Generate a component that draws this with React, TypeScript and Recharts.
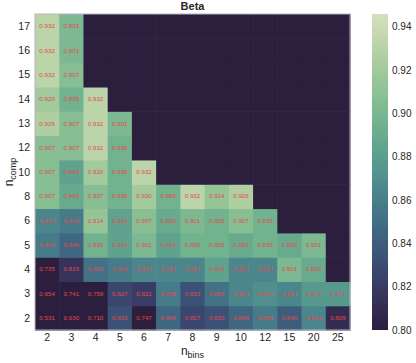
import React from 'react';
import { ScatterChart, Scatter, XAxis, YAxis } from 'recharts';

// columns (n_bins) and rows (n_comp, bottom to top)
const BINS = ['2', '3', '4', '5', '6', '7', '8', '9', '10', '12', '15', '20', '25'];
const COMPS = ['2', '3', '4', '5', '6', '8', '10', '12', '13', '14', '15', '16', '17'];

// scores per n_comp, starting at n_bins = 2
const ROW_2 = [0.531, 0.630, 0.710, 0.833, 0.747, 0.846, 0.827, 0.833, 0.846, 0.858, 0.840, 0.864, 0.809];
const ROW_3 = [0.654, 0.741, 0.759, 0.827, 0.821, 0.858, 0.833, 0.852, 0.864, 0.870, 0.864, 0.877, 0.877];
const ROW_4 = [0.735, 0.815, 0.852, 0.858, 0.864, 0.864, 0.864, 0.883, 0.864, 0.864, 0.901, 0.889];
const ROW_5 = [0.858, 0.846, 0.895, 0.883, 0.901, 0.883, 0.895, 0.895, 0.889, 0.895, 0.889, 0.901];
const ROW_6 = [0.864, 0.858, 0.914, 0.883, 0.907, 0.889, 0.901, 0.895, 0.907, 0.895];
const ROW_8 = [0.907, 0.889, 0.907, 0.895, 0.920, 0.895, 0.932, 0.914, 0.926];
const ROW_10 = [0.907, 0.883, 0.920, 0.895, 0.932];
const ROW_12 = [0.907, 0.907, 0.932, 0.895];
const ROW_13 = [0.926, 0.907, 0.932, 0.901];
const ROW_14 = [0.920, 0.895, 0.932];
const ROW_15 = [0.932, 0.907];
const ROW_16 = [0.932, 0.901];
const ROW_17 = [0.932, 0.901];

const ROWS = [ROW_2, ROW_3, ROW_4, ROW_5, ROW_6, ROW_8, ROW_10, ROW_12, ROW_13, ROW_14, ROW_15, ROW_16, ROW_17];

const CBAR_TICKS = [0.80, 0.82, 0.84, 0.86, 0.88, 0.90, 0.92, 0.94];
const VMIN = 0.8;
const VMAX = 0.946;

const FONT = '"Liberation Sans", Arial, sans-serif';

// seaborn cubehelix_palette(start=.5, rot=-.75, reverse=True)
function cubehelix(x: number) {
  const phi = 2 * Math.PI * (0.5 / 3 - 0.75 * x);
  const a = (0.8 * x * (1 - x)) / 2;
  const c = Math.cos(phi);
  const s = Math.sin(phi);
  const ch = (v: number) => Math.round(Math.max(0, Math.min(1, v)) * 255);
  const r = x + a * (-0.14861 * c + 1.78277 * s);
  const g = x + a * (-0.29227 * c - 0.90649 * s);
  const b = x + a * (1.97294 * c);
  return `rgb(${ch(r)},${ch(g)},${ch(b)})`;
}

function colorFor(v: number | null) {
  if (v == null) return cubehelix(0.15);
  const t = Math.max(0, Math.min(1, (v - VMIN) / (VMAX - VMIN)));
  return cubehelix(0.15 + 0.7 * t);
}

const W = 416;
const H = 363;
const PLOT = { left: 35, top: 14, right: 350, bottom: 330 };
const CW = (PLOT.right - PLOT.left) / BINS.length;
const CH = (PLOT.bottom - PLOT.top) / COMPS.length;

const cells: { x: number; y: number; v: number | null }[] = [];
ROWS.forEach((row, r) => {
  BINS.forEach((_, c) => {
    cells.push({ x: c, y: r, v: row[c] ?? null });
  });
});

const Cell = (props: any) => {
  const { cx, cy, payload } = props;
  return (
    <g>
      <rect x={cx - CW / 2} y={cy - CH / 2} width={CW + 0.6} height={CH + 0.6} fill={colorFor(payload.v)} />
      {payload.v != null && (
        <text x={cx} y={cy} dy="0.35em" textAnchor="middle" fontSize={6.2} fill="#e4484c" fontFamily={FONT}>
          {payload.v.toFixed(3)}
        </text>
      )}
    </g>
  );
};

const idx = (n: number) => Array.from({ length: n }, (_, i) => i);

export default function App() {
  const cbX = 372;
  const cbW = 16;
  const cbY = (v: number) => PLOT.bottom - ((v - VMIN) / (VMAX - VMIN)) * (PLOT.bottom - PLOT.top);
  return (
    <div style={{ position: 'absolute', left: 0, top: 0, width: W, height: H, background: '#fff' }}>
      <ScatterChart width={W} height={H} margin={{ top: PLOT.top, right: W - PLOT.right, bottom: 13, left: 8 }}>
        <XAxis
          type="number"
          dataKey="x"
          domain={[-0.5, BINS.length - 0.5]}
          ticks={idx(BINS.length)}
          interval={0}
          tickFormatter={(i: number) => BINS[i]}
          height={20}
          tickSize={0}
          tickMargin={4}
          axisLine={false}
          tickLine={false}
          tick={{ fill: '#262626', fontSize: 10.5, fontFamily: FONT }}
        />
        <YAxis
          type="number"
          dataKey="y"
          domain={[-0.5, COMPS.length - 0.5]}
          ticks={idx(COMPS.length)}
          interval={0}
          tickFormatter={(i: number) => COMPS[i]}
          width={27}
          tickSize={0}
          tickMargin={5}
          axisLine={false}
          tickLine={false}
          tick={{ fill: '#262626', fontSize: 10.5, fontFamily: FONT }}
        />
        <Scatter data={cells} shape={Cell} isAnimationActive={false} />
      </ScatterChart>
      <svg width={W} height={H} style={{ position: 'absolute', left: 0, top: 0, pointerEvents: 'none' }}>
        <defs>
          <linearGradient id="cb" x1="0" y1="1" x2="0" y2="0">
            {idx(21).map((i) => (
              <stop key={i} offset={i / 20} stopColor={colorFor(VMIN + (i / 20) * (VMAX - VMIN))} />
            ))}
          </linearGradient>
        </defs>
        <rect
          x={PLOT.left}
          y={PLOT.top}
          width={PLOT.right - PLOT.left}
          height={PLOT.bottom - PLOT.top}
          fill="none"
          stroke="#b8b4c0"
          strokeWidth={1}
        />
        <text x={(PLOT.left + PLOT.right) / 2} y={10} textAnchor="middle" fontSize={11} fontWeight="bold" fill="#262626" fontFamily={FONT}>
          Beta
        </text>
        <text x={(PLOT.left + PLOT.right) / 2} y={355} textAnchor="middle" fill="#262626" fontFamily={FONT}>
          <tspan fontSize={12}>n</tspan>
          <tspan fontSize={9} dy={3}>bins</tspan>
        </text>
        <text
          transform={`translate(13, ${(PLOT.top + PLOT.bottom) / 2}) rotate(-90)`}
          textAnchor="middle"
          fill="#262626"
          fontFamily={FONT}
        >
          <tspan fontSize={12}>n</tspan>
          <tspan fontSize={9} dy={3}>comp</tspan>
        </text>
        <rect x={cbX} y={PLOT.top} width={cbW} height={PLOT.bottom - PLOT.top} fill="url(#cb)" />
        {CBAR_TICKS.map((t) => (
          <text key={t} x={cbX + cbW + 4} y={cbY(t)} dy="0.35em" fontSize={10} fill="#262626" fontFamily={FONT}>
            {t.toFixed(2)}
          </text>
        ))}
      </svg>
    </div>
  );
}
